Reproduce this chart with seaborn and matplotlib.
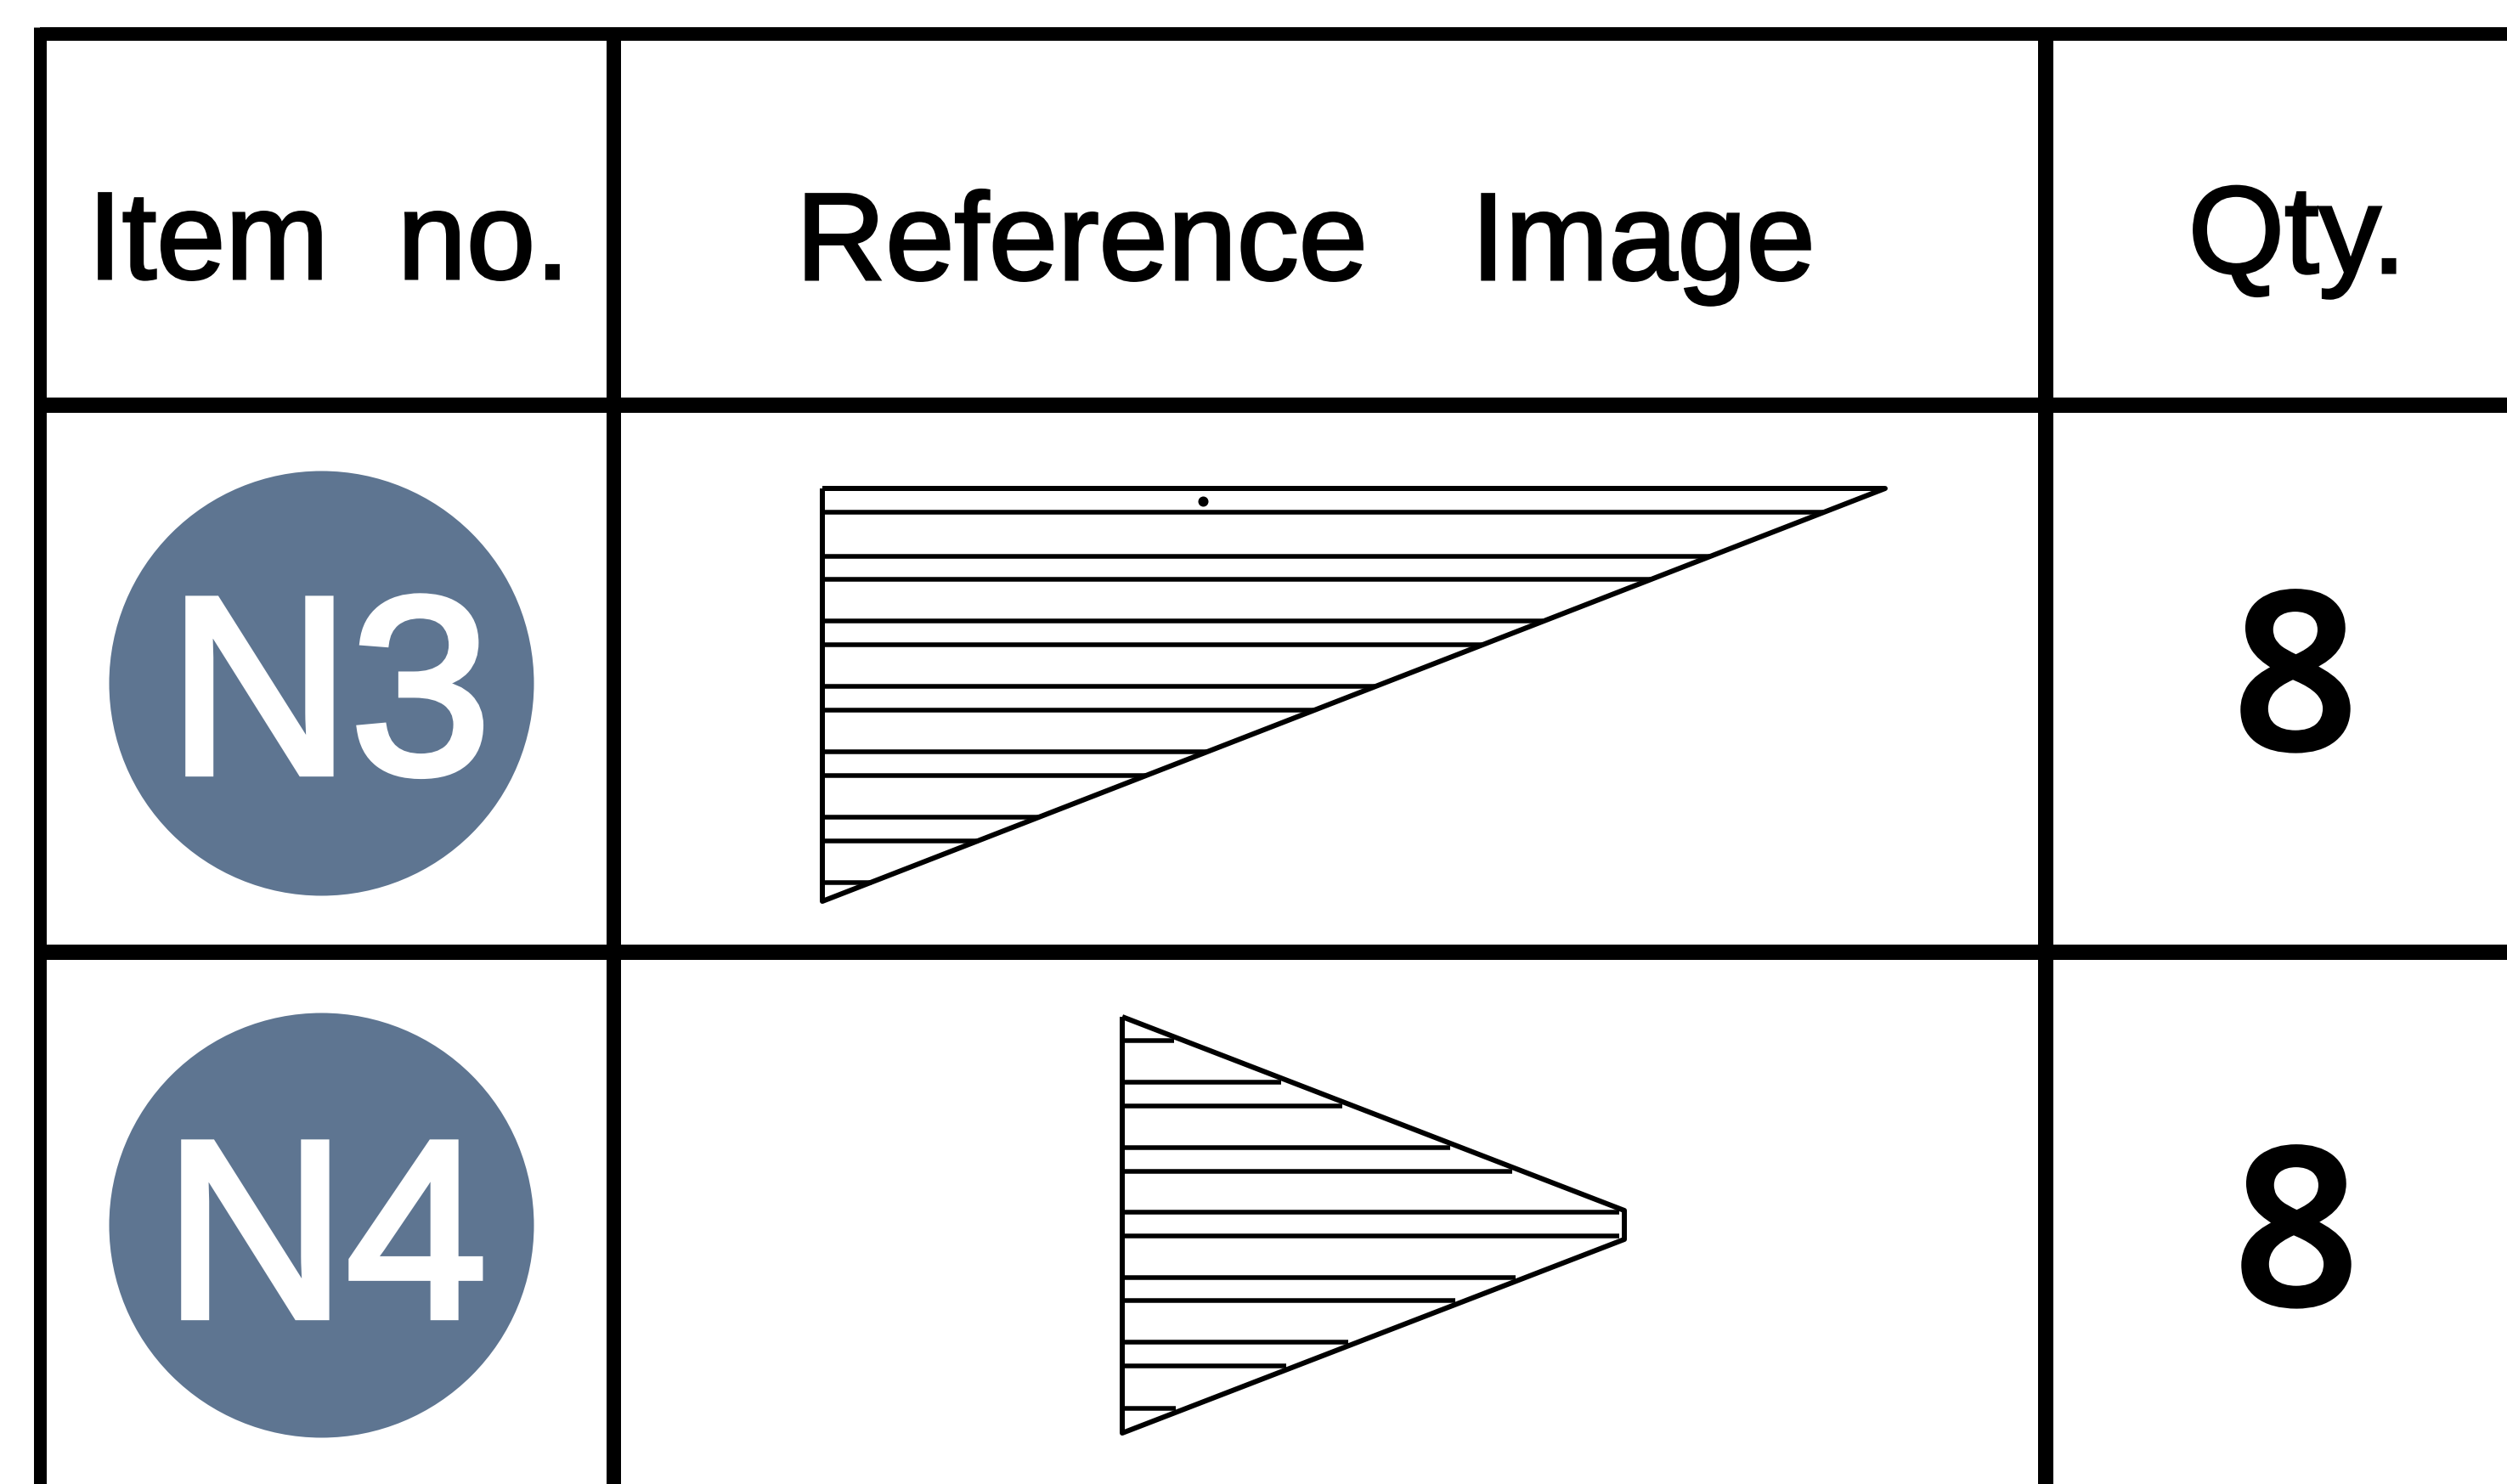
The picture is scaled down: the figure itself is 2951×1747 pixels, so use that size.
import matplotlib
matplotlib.use("Agg")

import matplotlib.patheffects as pe
import matplotlib.pyplot as plt
import pandas as pd
import seaborn as sns

# everything below in pixels
WIDTH, HEIGHT = 2951, 1747
BLUE = "#5e7591"

row_lines = [40, 477, 1121]
row_line_widths = [16, 18, 18]
col_lines = [46.5, 722, 2408]
col_line_widths = [15, 17, 18]

item_labels = ["N3", "N4"]
item_label_x = [388, 383]
item_label_base = [910, 1550]
item_circle_y = [804, 1442]
item_circle_x = [378, 378]

qty_labels = ["8", "8"]
qty_x = [2702, 2703]
qty_base = [882, 1536]

headers = ["Item  no.", "Reference   Image", "Qty."]
header_x = [387, 1537, 2704]
header_base = [328, 329, 321]
header_size = [105, 105, 105]

# N3 drawing
n3_outline_x = [968, 968, 2219, 968]
n3_outline_y = [575, 1061, 575, 575]
n3_hatch_y = [603, 655, 682, 731, 759, 808, 836, 885, 913, 962, 990, 1039]
n3_hatch_end = [2146, 2014, 1943, 1816, 1745, 1618, 1547, 1421, 1349, 1223, 1152, 1026]
n3_hole_x = [1416]
n3_hole_y = [590]

# N4 drawing
n4_outline_x = [1321, 1912, 1912, 1321, 1321]
n4_outline_y = [1197, 1425, 1459, 1687, 1197]
n4_hatch_y = [1225, 1274, 1302, 1351, 1379, 1427, 1455, 1504, 1531, 1580, 1608, 1658]
n4_hatch_end = [1382, 1508, 1580, 1707, 1780, 1906, 1906, 1784, 1713, 1587, 1514, 1384]


def hatch_frame(start: float, ends: list[float], ys: list[float]) -> pd.DataFrame:
    rows = []
    for i, (end, y) in enumerate(zip(ends, ys)):
        rows.append({"seg": i, "x": start, "y": y})
        rows.append({"seg": i, "x": end, "y": y})
    return pd.DataFrame(rows)


def draw_segments(ax, df: pd.DataFrame, lw_px: float) -> None:
    sns.lineplot(
        data=df, x="x", y="y", units="seg", estimator=None, sort=False,
        color="black", linewidth=lw_px * 0.72, legend=False, ax=ax,
        solid_capstyle="butt", solid_joinstyle="round",
    )


def draw_outline(ax, xs: list[float], ys: list[float], lw_px: float) -> None:
    outline = pd.DataFrame({"seg": 0, "x": xs, "y": ys})
    draw_segments(ax, outline, lw_px)


def heavier(width_pt: float, colour: str) -> list:
    return [pe.withStroke(linewidth=width_pt, foreground=colour, joinstyle="miter")]


sns.set_theme(style="white")
plt.rcParams["font.family"] = ["Liberation Sans", "DejaVu Sans"]
plt.rcParams["text.hinting"] = "no_hinting"

fig = plt.figure(figsize=(WIDTH / 100, HEIGHT / 100), dpi=100)
ax = fig.add_axes([0, 0, 1, 1])

# table rules, the left border also closes the top left corner
for y, lw in zip(row_lines, row_line_widths):
    draw_segments(ax, pd.DataFrame({"seg": 0, "x": [col_lines[0], WIDTH], "y": [y, y]}), lw)
rule_tops = [row_lines[0] - row_line_widths[0] / 2, row_lines[0], row_lines[0]]
for x, lw, top in zip(col_lines, col_line_widths, rule_tops):
    draw_segments(ax, pd.DataFrame({"seg": 0, "x": [x, x], "y": [top, HEIGHT]}), lw)

# item badges
sns.scatterplot(x=item_circle_x, y=item_circle_y, s=(500 * 0.72) ** 2, color=BLUE, linewidth=0, ax=ax)
for label, x, y in zip(item_labels, item_label_x, item_label_base):
    ax.text(x, y, label, color="white", fontsize=214, ha="center", va="baseline",
            path_effects=heavier(6, "white"))

# drawings
draw_outline(ax, n3_outline_x, n3_outline_y, 6)
draw_segments(ax, hatch_frame(n3_outline_x[0], n3_hatch_end, n3_hatch_y), 5.5)
sns.scatterplot(x=n3_hole_x, y=n3_hole_y, s=(12 * 0.72) ** 2, color="black", linewidth=0, ax=ax)
draw_outline(ax, n4_outline_x, n4_outline_y, 6)
draw_segments(ax, hatch_frame(n4_outline_x[0], n4_hatch_end, n4_hatch_y), 5.5)

# text
for label, x, y, size in zip(headers, header_x, header_base, header_size):
    ax.text(x, y, label, color="black", fontsize=size, ha="center", va="baseline",
            path_effects=heavier(2.2, "black"))
for label, x, y in zip(qty_labels, qty_x, qty_base):
    ax.text(x, y, label, color="black", fontsize=186, ha="center", va="baseline",
            family=["Open Sans", "DejaVu Sans"], weight="semibold",
            path_effects=heavier(3, "black"))

ax.set_xlim(0, WIDTH)
ax.set_ylim(HEIGHT, 0)
ax.set_xlabel("")
ax.set_ylabel("")
ax.axis("off")
fig.savefig("out.png", dpi=100, facecolor="white")
plt.close(fig)
